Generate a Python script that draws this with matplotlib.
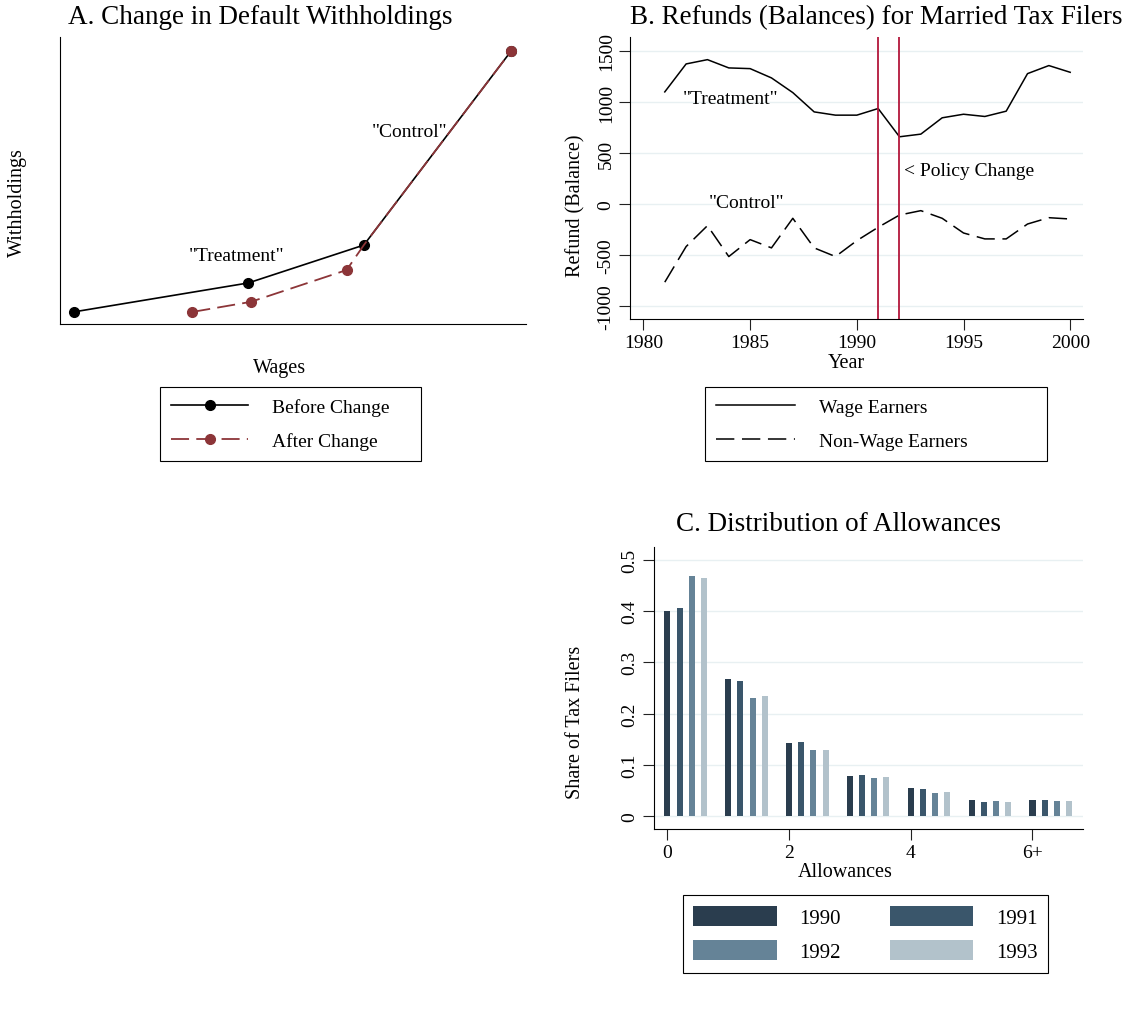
import matplotlib
matplotlib.use('Agg')
import matplotlib.pyplot as plt
import numpy as np

plt.rcParams['font.family'] = ['Liberation Serif', 'DejaVu Serif']

# panel A: stylised withholding schedule
wage_before = [0.29, 4.04, 6.52, 9.68]
whold_before = [0.42, 1.43, 2.75, 9.51]
wage_after = [2.84, 4.09, 6.15, 6.52, 9.68]
whold_after = [0.42, 0.77, 1.88, 2.75, 9.51]

# panel B: refunds by year
years = list(range(1981, 2001))
wage_earners = [1099, 1373, 1415, 1334, 1327, 1236, 1092, 903, 871, 871,
                936, 659, 685, 845, 880, 858, 910, 1278, 1357, 1291]
non_wage_earners = [-766, -417, -212, -515, -349, -430, -140, -430, -515, -359,
                    -228, -108, -65, -140, -284, -342, -342, -196, -134, -147]
policy_years = [1991, 1992]

# panel C: allowances distribution
allowances = [0, 1, 2, 3, 4, 5, 6]
share_1990 = [0.401, 0.268, 0.143, 0.079, 0.054, 0.032, 0.032]
share_1991 = [0.406, 0.264, 0.145, 0.081, 0.053, 0.027, 0.031]
share_1992 = [0.468, 0.230, 0.130, 0.075, 0.046, 0.029, 0.029]
share_1993 = [0.464, 0.234, 0.130, 0.077, 0.048, 0.027, 0.029]
dist_years = ['1990', '1991', '1992', '1993']

W, H = 1125, 1020
fig = plt.figure(figsize=(W / 100, H / 100), dpi=100)


def box(l, r, t, b):
    return [l / W, 1 - b / H, (r - l) / W, (b - t) / H]


def ftext(x, y, s, **kw):
    fig.text(x / W, 1 - y / H, s, ha='center', va='center', **kw)


def legend_at(ax, l, r, cy, fs=14, **kw):
    leg = ax.legend(loc='center', bbox_to_anchor=(l / W, 1 - cy / H - 0.01, (r - l) / W, 0.02),
                    bbox_transform=fig.transFigure, mode='expand', fancybox=False,
                    borderaxespad=0, edgecolor='black', framealpha=1, fontsize=fs, **kw)
    leg.get_frame().set_linewidth(0.8)
    return leg


grid_c = '#e8f0f2'
dark = '#222222'
title_fs = 19.5
lab_fs = 14.5
tick_fs = 14

# ---- A ----
axA = fig.add_axes(box(60, 526, 38, 325))
axA.plot(wage_after, whold_after, color='#8c3538', lw=1.3, dashes=(10, 4),
         marker='o', ms=7, markevery=[0, 1, 2, 4], label='After Change', zorder=3)
axA.plot(wage_before, whold_before, color='black', lw=1.2, marker='o', ms=7,
         label='Before Change', zorder=2)
axA.set_xlim(0, 10)
axA.set_ylim(0, 10)
axA.set_xticks([])
axA.set_yticks([])
for s in ['top', 'right']:
    axA.spines[s].set_visible(False)
axA.text(3.78, 2.37, '"Treatment"', fontsize=14, ha='center', va='center')
axA.text(7.5, 6.72, '"Control"', fontsize=14, ha='center', va='center')
ftext(260, 18, 'A. Change in Default Withholdings', fontsize=title_fs)
ftext(280, 368, 'Wages', fontsize=lab_fs)
ftext(17, 203, 'Withholdings', fontsize=lab_fs, rotation=90)
h, l = axA.get_legend_handles_labels()
legend_at(axA, 160, 421, 425, handles=h[::-1], labels=l[::-1], handlelength=4,
          handletextpad=1.2, labelspacing=0.85, borderpad=0.55)

# ---- B ----
axB = fig.add_axes(box(630, 1083, 38, 320))
axB.plot(years, wage_earners, color='black', lw=1.1, label='Wage Earners')
axB.plot(years, non_wage_earners, color='black', lw=1.1, dashes=(12, 5),
         label='Non-Wage Earners')
for yr in policy_years:
    axB.axvline(yr, color='#b3173b', lw=1.3)
axB.set_xlim(1979.37, 2000.6)
axB.set_ylim(-1127, 1637)
axB.set_xticks([1980, 1985, 1990, 1995, 2000])
axB.set_yticks([-1000, -500, 0, 500, 1000, 1500])
axB.set_yticklabels(['-1000', '-500', '0', '500', '1000', '1500'],
                    rotation=90, va='center')
axB.grid(axis='y', color=grid_c, lw=1)
axB.set_axisbelow(True)
for s in ['top', 'right']:
    axB.spines[s].set_visible(False)
axB.tick_params(labelsize=tick_fs, length=8, color=dark, pad=3)
axB.text(1984.1, 1037, '"Treatment"', fontsize=14, ha='center', va='center')
axB.text(1984.85, 10, '"Control"', fontsize=14, ha='center', va='center')
axB.text(1992.19, 326, '< Policy Change', fontsize=14, ha='left', va='center')
ftext(876, 18, 'B. Refunds (Balances) for Married Tax Filers', fontsize=title_fs)
ftext(846, 364, 'Year', fontsize=lab_fs)
ftext(576, 206, 'Refund (Balance)', fontsize=lab_fs, rotation=90)
legend_at(axB, 705, 1047, 425, handlelength=4.1, handletextpad=1.2,
          labelspacing=0.85, borderpad=0.55)

# ---- C ----
axC = fig.add_axes(box(654, 1083, 548, 830))
x = np.array(allowances)
cols = ['#2a3d4e', '#3a566b', '#658397', '#b2c2cb']
series = [share_1990, share_1991, share_1992, share_1993]
bars = []
for i, (vals, c, lab) in enumerate(zip(series, cols, dist_years)):
    bars.append(axC.bar(x + 0.2 * i, vals, width=0.1, color=c, label=lab, zorder=2))
axC.set_xlim(-0.22, 6.83)
axC.set_ylim(-0.025, 0.525)
axC.set_xticks([0, 2, 4, 6])
axC.set_xticklabels(['0', '2', '4', '6+'])
axC.set_yticks([0, 0.1, 0.2, 0.3, 0.4, 0.5])
axC.set_yticklabels(['0', '0.1', '0.2', '0.3', '0.4', '0.5'], rotation=90, va='center')
axC.grid(axis='y', color=grid_c, lw=1)
axC.set_axisbelow(True)
for s in ['top', 'right']:
    axC.spines[s].set_visible(False)
axC.tick_params(labelsize=tick_fs, length=8, color=dark, pad=3)
ftext(838, 525, 'C. Distribution of Allowances', fontsize=title_fs)
ftext(845, 873, 'Allowances', fontsize=lab_fs)
ftext(575, 722, 'Share of Tax Filers', fontsize=lab_fs, rotation=90)
order = [0, 2, 1, 3]
legend_at(axC, 683, 1048, 935, fs=15, handles=[bars[i] for i in order],
          labels=[dist_years[i] for i in order], ncol=2, handlelength=4.0,
          handleheight=1.1, handletextpad=1.1, columnspacing=2.5,
          labelspacing=0.6, borderpad=0.5)

fig.savefig('out.png', dpi=100)
